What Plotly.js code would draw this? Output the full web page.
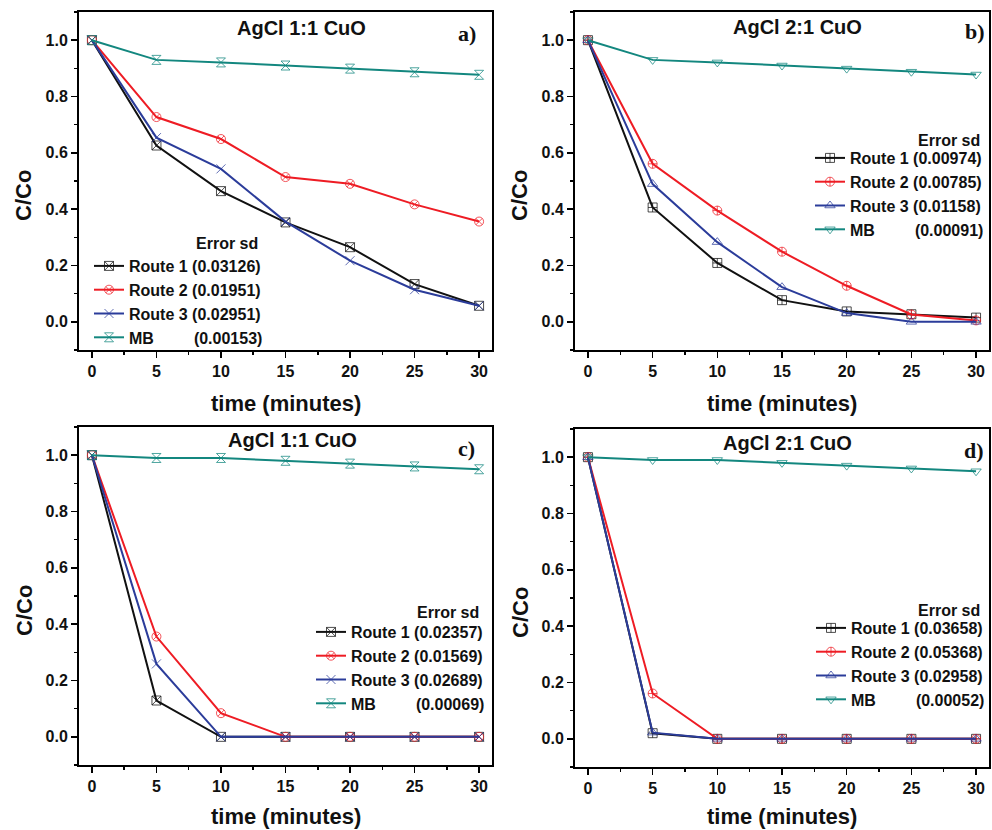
<!DOCTYPE html>
<html>
<head>
<meta charset="utf-8">
<script src="https://cdn.plot.ly/plotly-3.0.1.min.js"></script>
<style>html,body{margin:0;padding:0;background:#fff}#chart{width:992px;height:830px}</style>
</head>
<body>
<div id="chart"></div>
<script>
const time = [0, 5, 10, 15, 20, 25, 30];

const a_route1 = [1.0, 0.626, 0.464, 0.353, 0.265, 0.134, 0.057];
const a_route2 = [1.0, 0.727, 0.649, 0.514, 0.490, 0.417, 0.356];
const a_route3 = [1.0, 0.654, 0.543, 0.356, 0.217, 0.114, 0.057];
const a_mb     = [1.0, 0.930, 0.921, 0.910, 0.899, 0.886, 0.877];

const b_route1 = [1.0, 0.406, 0.209, 0.077, 0.037, 0.027, 0.015];
const b_route2 = [1.0, 0.561, 0.395, 0.249, 0.128, 0.026, 0.005];
const b_route3 = [1.0, 0.489, 0.283, 0.123, 0.031, 0.0, 0.0];
const b_mb     = [1.0, 0.930, 0.921, 0.910, 0.899, 0.888, 0.878];

const c_route1 = [1.0, 0.129, 0.0, 0.0, 0.0, 0.0, 0.0];
const c_route2 = [1.0, 0.356, 0.084, 0.0, 0.0, 0.0, 0.0];
const c_route3 = [1.0, 0.259, 0.0, 0.0, 0.0, 0.0, 0.0];
const c_mb     = [1.0, 0.99, 0.99, 0.98, 0.97, 0.96, 0.95];

const d_route1 = [1.0, 0.020, 0.0, 0.0, 0.0, 0.0, 0.0];
const d_route2 = [1.0, 0.161, 0.0, 0.0, 0.0, 0.0, 0.0];
const d_route3 = [1.0, 0.022, 0.0, 0.0, 0.0, 0.0, 0.0];
const d_mb     = [1.0, 0.99, 0.99, 0.98, 0.97, 0.96, 0.95];

const NB = '\u00A0';
const a_names = ['Route 1 (0.03126)', 'Route 2 (0.01951)', 'Route 3 (0.02951)', 'MB' + NB.repeat(9) + '(0.00153)'];
const b_names = ['Route 1 (0.00974)', 'Route 2 (0.00785)', 'Route 3 (0.01158)', 'MB' + NB.repeat(9) + '(0.00091)'];
const c_names = ['Route 1 (0.02357)', 'Route 2 (0.01569)', 'Route 3 (0.02689)', 'MB' + NB.repeat(9) + '(0.00069)'];
const d_names = ['Route 1 (0.03658)', 'Route 2 (0.05368)', 'Route 3 (0.02958)', 'MB' + NB.repeat(9) + '(0.00052)'];

const panel_titles = ['AgCl 1:1 CuO', 'AgCl 2:1 CuO', 'AgCl 1:1 CuO', 'AgCl 2:1 CuO'];
const panel_letters = ['a)', 'b)', 'c)', 'd)'];
const x_title = 'time (minutes)';
const y_title = 'C/Co';

const colors = ['#111111', '#ee1c24', '#2b3c9a', '#13877f'];
const symbols_ac = ['square-x-open', 'circle-x-open', 'x-thin-open', 'hourglass-open'];
const symbols_bd = ['square-cross-open', 'circle-cross-open', 'triangle-up-open', 'triangle-down-open'];

const W = 992, H = 830;
const px = v => v / W;
const py = v => 1 - v / H;

const panels = [
  {series: [a_route1, a_route2, a_route3, a_mb], names: a_names, sym: symbols_ac, xa: 'x', ya: 'y', leg: 'legend'},
  {series: [b_route1, b_route2, b_route3, b_mb], names: b_names, sym: symbols_bd, xa: 'x2', ya: 'y2', leg: 'legend2'},
  {series: [c_route1, c_route2, c_route3, c_mb], names: c_names, sym: symbols_ac, xa: 'x3', ya: 'y3', leg: 'legend3'},
  {series: [d_route1, d_route2, d_route3, d_mb], names: d_names, sym: symbols_bd, xa: 'x4', ya: 'y4', leg: 'legend4'}
];

const traces = [];
panels.forEach((p, pi) => {
  p.series.forEach((s, si) => {
    traces.push({
      type: 'scatter', mode: 'lines+markers',
      x: time, y: s, name: p.names[si],
      xaxis: p.xa, yaxis: p.ya, legend: p.leg,
      line: {color: colors[si], width: 2},
      marker: {symbol: p.sym[si], size: 9, color: colors[si], opacity: 0.75, line: {width: 1, color: colors[si]}}
    });
  });
});

const FONT = 'Liberation Sans, Arial, sans-serif';
function xaxis(domain, anchor) {
  return {
    domain: domain, anchor: anchor, range: [-1, 31], tick0: 0, dtick: 5,
    showline: true, linewidth: 2, linecolor: '#000', mirror: true,
    ticks: 'outside', ticklen: 6, tickwidth: 1.5, tickcolor: '#000',
    minor: {dtick: 2.5, tick0: 0, ticks: 'outside', ticklen: 3, tickwidth: 1.5, tickcolor: '#000'},
    showgrid: false, zeroline: false,
    tickfont: {family: FONT, size: 16, color: '#111', weight: 'bold'}
  };
}
function yaxis(domain, anchor) {
  return {
    domain: domain, anchor: anchor, range: [-0.1, 1.1], tick0: 0, dtick: 0.2, tickformat: '.1f',
    showline: true, linewidth: 2, linecolor: '#000', mirror: true,
    ticks: 'outside', ticklen: 6, tickwidth: 1.5, tickcolor: '#000',
    minor: {dtick: 0.1, tick0: 0, ticks: 'outside', ticklen: 3, tickwidth: 1.5, tickcolor: '#000'},
    showgrid: false, zeroline: false,
    tickfont: {family: FONT, size: 16, color: '#111', weight: 'bold'}
  };
}

function legend(left, top) {
  return {
    x: px(left), xanchor: 'left', y: py(top), yanchor: 'top',
    bgcolor: 'rgba(0,0,0,0)', borderwidth: 0,
    font: {family: FONT, size: 16, color: '#111', weight: 'bold'}
  };
}

const annotations = [];
function ann(text, x, y, size, family, extra) {
  annotations.push(Object.assign({
    text: text, xref: 'paper', yref: 'paper', x: px(x), y: py(y),
    xanchor: 'center', yanchor: 'middle', showarrow: false,
    font: {family: family, size: size, color: '#111', weight: 'bold'}
  }, extra || {}));
}
ann(panel_titles[0], 301, 28, 20, FONT);
ann(panel_titles[1], 797, 27, 20, FONT);
ann(panel_titles[2], 292, 440, 20, FONT);
ann(panel_titles[3], 787, 443, 20, FONT);
ann(panel_letters[0], 467, 33, 22, 'Liberation Serif, Times New Roman, serif');
ann(panel_letters[1], 975, 32, 22, 'Liberation Serif, Times New Roman, serif');
ann(panel_letters[2], 466, 448, 22, 'Liberation Serif, Times New Roman, serif');
ann(panel_letters[3], 974, 450, 22, 'Liberation Serif, Times New Roman, serif');
ann(x_title, 286, 403, 22, FONT);
ann(x_title, 782, 403, 22, FONT);
ann(x_title, 286, 816, 22, FONT);
ann(x_title, 782, 816, 22, FONT);
ann(y_title, 24, 196, 22, FONT, {textangle: -90});
ann(y_title, 520, 196, 22, FONT, {textangle: -90});
ann(y_title, 24, 611, 22, FONT, {textangle: -90});
ann(y_title, 520, 613, 22, FONT, {textangle: -90});
ann('Error sd', 260, 244, 16, FONT, {xanchor: 'right'});
ann('Error sd', 982, 140, 16, FONT, {xanchor: 'right'});
ann('Error sd', 481, 612, 16, FONT, {xanchor: 'right'});
ann('Error sd', 982, 610, 16, FONT, {xanchor: 'right'});

const layout = {
  width: W, height: H, margin: {l: 0, r: 0, t: 0, b: 0},
  paper_bgcolor: '#fff', plot_bgcolor: '#fff', showlegend: true,
  xaxis: xaxis([px(79), px(492)], 'y'),
  yaxis: yaxis([py(350), py(12)], 'x'),
  xaxis2: xaxis([px(575), px(989)], 'y2'),
  yaxis2: yaxis([py(350), py(12)], 'x2'),
  xaxis3: xaxis([px(79), px(492)], 'y3'),
  yaxis3: yaxis([py(765), py(427)], 'x3'),
  xaxis4: xaxis([px(575), px(989)], 'y4'),
  yaxis4: yaxis([py(767), py(429)], 'x4'),
  legend: legend(89, 249),
  legend2: legend(810, 141),
  legend3: legend(311, 615),
  legend4: legend(811, 611),
  annotations: annotations
};

Plotly.newPlot('chart', traces, layout, {displayModeBar: false, staticPlot: true});
</script>
</body>
</html>
